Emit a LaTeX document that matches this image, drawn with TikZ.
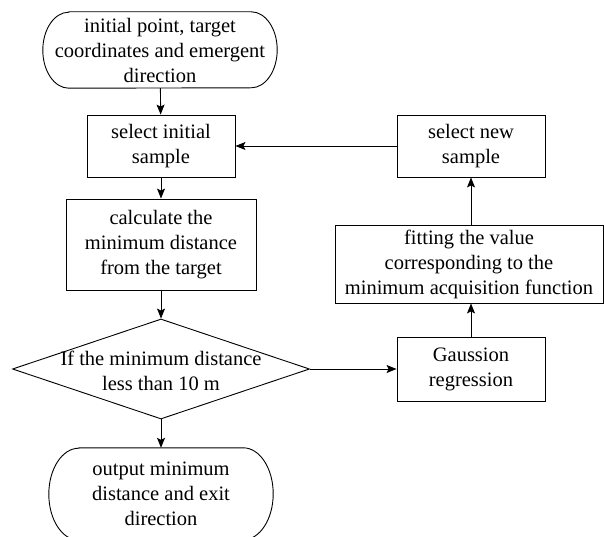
\documentclass[tikz,border=0pt]{standalone}
\usepackage{fontspec}
\setmainfont{Liberation Serif}
\newfontfamily\flowfont{Liberation Serif}
\usetikzlibrary{arrows.meta,shapes.geometric}
\tikzset{
  every node/.style={font=\flowfont\fontsize{20.5}{25}\selectfont, align=center, inner sep=0pt},
  procbox/.style={draw, line width=0.9pt, rectangle},
  termbox/.style={rectangle},
  termline/.style={line width=0.9pt},
  decbox/.style={draw, line width=0.9pt, diamond, inner sep=0pt},
  flow/.style={line width=0.9pt, -{Stealth[length=10pt,width=8pt,inset=2pt]}}
}
\newcommand\flowterm[3]{%
  \draw[termline] ([xshift=#2]#1.north west) -- ([xshift=-#2]#1.north east)
    arc[start angle=90, end angle=-90, x radius=#2, y radius=#3]
    -- ([xshift=#2]#1.south west)
    arc[start angle=270, end angle=90, x radius=#2, y radius=#3] -- cycle;}
\begin{document}
\begin{tikzpicture}[x=1pt,y=-1pt]
\useasboundingbox (0,0) rectangle (604,537);
\node[termbox, minimum width=234pt, minimum height=76pt] (start) at (160,50) {initial point, target\\coordinates and emergent\\direction};
\flowterm{start}{26pt}{38pt}
\node[procbox, minimum width=148pt, minimum height=62pt] (sel) at (161,146) {select initial\\sample};
\node[procbox, minimum width=190pt, minimum height=91pt] (calc) at (161,244.5) {calculate the\\minimum distance\\from the target};
\node[decbox, minimum width=297pt, minimum height=100pt] (dec) at (161,369) {};
\node (dectext) at (161,371) {If the minimum distance\\less than 10 m};
\node[termbox, minimum width=224pt, minimum height=92pt] (out) at (161,494) {output minimum\\distance and exit\\direction};
\flowterm{out}{30pt}{46pt}
\node[procbox, minimum width=148pt, minimum height=64pt] (gauss) at (471,369) {Gaussion\\regression};
\node[procbox, minimum width=268pt, minimum height=78pt] (fit) at (469,264) {fitting the value\\corresponding to the\\minimum acquisition function};
\node[procbox, minimum width=148pt, minimum height=62pt] (new) at (471,146) {select new\\sample};
\draw[flow] (start) -- (sel);
\draw[flow] (sel) -- (calc);
\draw[flow] (calc) -- (dec);
\draw[flow] (dec) -- (out);
\draw[flow] (dec.east) -- (gauss.west);
\draw[flow] (gauss.north) -- (gauss.north |- fit.south);
\draw[flow] (new.south |- fit.north) -- (new.south);
\draw[flow] (new.west) -- (sel.east);
\end{tikzpicture}
\end{document}
